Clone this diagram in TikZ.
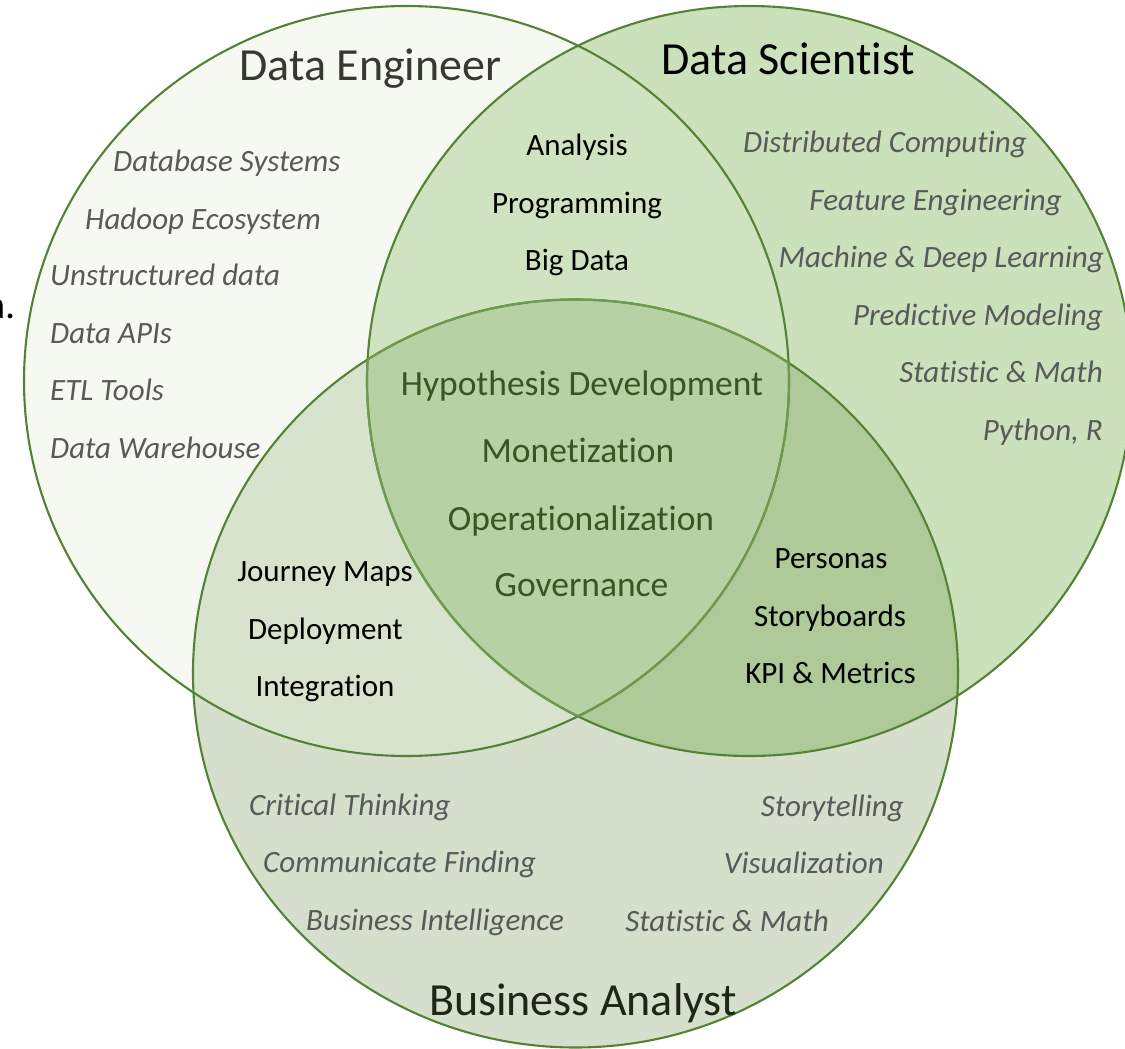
\documentclass[tikz,border=0pt]{standalone}
\usepackage{fontspec}
\setmainfont{Carlito}[Ligatures={NoCommon}]
\definecolor{cDE}{HTML}{F5F9F2}
\definecolor{cDS}{HTML}{CAE1BB}
\definecolor{cBA}{HTML}{D5DFCB}
\definecolor{cDEDS}{HTML}{CFE3C1}
\definecolor{cDEBA}{HTML}{D8E3CE}
\definecolor{cDSBA}{HTML}{ADCA98}
\definecolor{cALL}{HTML}{B6D1A3}
\definecolor{cLine}{HTML}{548235}
\definecolor{cLineLight}{HTML}{6E9A50}
\definecolor{itemgray}{HTML}{595959}
\definecolor{coregreen}{HTML}{375623}
\definecolor{detitle}{HTML}{333B2E}
\definecolor{batitle}{HTML}{1C2814}
\tikzset{
  grayitem/.style={font=\fontsize{31}{37}\selectfont\itshape, text=itemgray, inner sep=0pt},
  blackitem/.style={font=\fontsize{31}{37}\selectfont, text=black, inner sep=0pt, anchor=base},
  coreitem/.style={font=\fontsize{35.5}{42}\selectfont, text=coregreen, inner sep=0pt, anchor=base},
  titletext/.style={font=\fontsize{46}{55}\selectfont, inner sep=0pt, anchor=base},
  outline/.style={draw=cLine, line width=2.1pt}
}
\begin{document}
\begin{tikzpicture}[x=1pt,y=-1pt]
\useasboundingbox (0,0) rectangle (1125,1049);
% base fills
\fill[cDE] (406.5,381) ellipse [x radius=382.5pt, y radius=375pt];
\fill[cDS] (749.5,381) ellipse [x radius=382.5pt, y radius=375pt];
\fill[cBA] (575.5,673.5) ellipse [x radius=382.5pt, y radius=374pt];
% pairwise overlaps
\begin{scope}
  \clip (406.5,381) ellipse [x radius=382.5pt, y radius=375pt];
  \fill[cDEDS] (749.5,381) ellipse [x radius=382.5pt, y radius=375pt];
  \fill[cDEBA] (575.5,673.5) ellipse [x radius=382.5pt, y radius=374pt];
\end{scope}
\begin{scope}
  \clip (749.5,381) ellipse [x radius=382.5pt, y radius=375pt];
  \fill[cDSBA] (575.5,673.5) ellipse [x radius=382.5pt, y radius=374pt];
\end{scope}
\begin{scope}
  \clip (406.5,381) ellipse [x radius=382.5pt, y radius=375pt];
  \clip (749.5,381) ellipse [x radius=382.5pt, y radius=375pt];
  \fill[cALL] (575.5,673.5) ellipse [x radius=382.5pt, y radius=374pt];
\end{scope}
% outlines
\draw[outline] (406.5,381) ellipse [x radius=382.5pt, y radius=375pt];
\draw[outline] (749.5,381) ellipse [x radius=382.5pt, y radius=375pt];
\draw[outline] (575.5,673.5) ellipse [x radius=382.5pt, y radius=374pt];
\begin{scope}
  \clip (406.5,381) ellipse [x radius=382.5pt, y radius=375pt];
  \clip (749.5,381) ellipse [x radius=382.5pt, y radius=375pt];
  \draw[draw=cLineLight, line width=2.2pt] (575.5,673.5) ellipse [x radius=382.5pt, y radius=374pt];
\end{scope}
\begin{scope}
  \clip (575.5,673.5) ellipse [x radius=382.5pt, y radius=374pt];
  \clip (406.5,381) ellipse [x radius=382.5pt, y radius=375pt];
  \draw[draw=cLineLight, line width=2.2pt] (749.5,381) ellipse [x radius=382.5pt, y radius=375pt];
\end{scope}
\begin{scope}
  \clip (575.5,673.5) ellipse [x radius=382.5pt, y radius=374pt];
  \clip (749.5,381) ellipse [x radius=382.5pt, y radius=375pt];
  \draw[draw=cLineLight, line width=2.2pt] (406.5,381) ellipse [x radius=382.5pt, y radius=375pt];
\end{scope}

% stray text at left edge (cut off in the original too)
\node[font=\fontsize{40}{48}\selectfont, inner sep=0pt, anchor=base east] (stray) at (16,318) {a.};

% titles
\node[titletext, text=detitle] (tDE) at (370.5,81) {Data Engineer};
\node[titletext, text=black] (tDS) at (788.5,75) {Data Scientist};
\node[titletext, text=batitle] (tBA) at (583,1015) {Business Analyst};

% Data Engineer items
\node[grayitem, anchor=base west] (de1) at (113,171.7) {Database Systems};
\node[grayitem, anchor=base west] (de2) at (85,229) {Hadoop Ecosystem};
\node[grayitem, anchor=base west] (de3) at (50,285.7) {Unstructured data};
\node[grayitem, anchor=base west] (de4) at (50,343.3) {Data APIs};
\node[grayitem, anchor=base west] (de5) at (50,400) {ETL Tools};
\node[grayitem, anchor=base west] (de6) at (50,458.3) {Data Warehouse};

% Data Scientist items
\node[grayitem, anchor=base east] (ds1) at (1027,152) {Distributed Computing};
\node[grayitem, anchor=base east] (ds2) at (1062,210) {Feature Engineering};
\node[grayitem, anchor=base east] (ds3) at (1104,267) {Machine \& Deep Learning};
\node[grayitem, anchor=base east] (ds4) at (1103,325) {Predictive Modeling};
\node[grayitem, anchor=base east] (ds5) at (1103,382) {Statistic \& Math};
\node[grayitem, anchor=base east] (ds6) at (1103,440) {Python, R};

% DE and DS overlap
\node[blackitem] (o1) at (577,155) {Analysis};
\node[blackitem] (o2) at (577,213) {Programming};
\node[blackitem] (o3) at (577,270.7) {Big Data};

% centre
\node[coreitem] (c1) at (582,395) {Hypothesis Development};
\node[coreitem] (c2) at (578,462.3) {Monetization};
\node[coreitem] (c3) at (581,530) {Operationalization};
\node[coreitem] (c4) at (581.5,596.7) {Governance};

% DS and BA overlap
\node[blackitem] (p1) at (831,568.3) {Personas};
\node[blackitem] (p2) at (830,626.7) {Storyboards};
\node[blackitem] (p3) at (830.5,683.3) {KPI \& Metrics};

% DE and BA overlap
\node[blackitem] (j1) at (325,581.7) {Journey Maps};
\node[blackitem] (j2) at (325.5,639) {Deployment};
\node[blackitem] (j3) at (325,696.7) {Integration};

% Business Analyst items
\node[grayitem, anchor=base west] (ba1) at (249,815) {Critical Thinking};
\node[grayitem, anchor=base west] (ba2) at (263,872) {Communicate Finding};
\node[grayitem, anchor=base west] (ba3) at (306,930) {Business Intelligence};
\node[grayitem, anchor=base east] (ba4) at (904,816) {Storytelling};
\node[grayitem, anchor=base east] (ba5) at (884,873) {Visualization};
\node[grayitem, anchor=base east] (ba6) at (829,931) {Statistic \& Math};
\end{tikzpicture}
\end{document}
